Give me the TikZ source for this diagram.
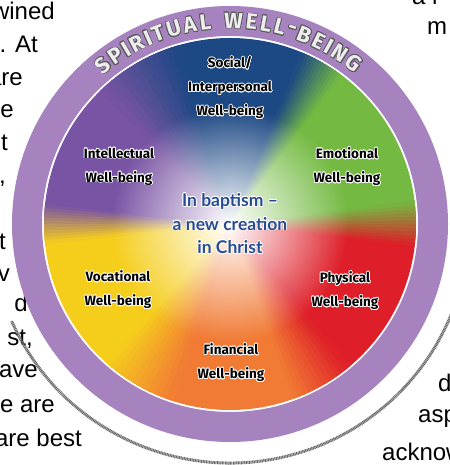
\documentclass[tikz,border=0pt]{standalone}
\usepackage{fontspec}
\setmainfont{Liberation Sans}
\newfontfamily\wheelfont{Fira Sans}
\newfontfamily\centerfont{Lato}
\usepackage[copies]{contour}
\contourlength{0.7pt}
\usetikzlibrary{fadings}

\definecolor{socialblue}{RGB}{28,72,132}
\definecolor{intpurple}{RGB}{122,84,164}
\definecolor{vocyellow}{RGB}{245,206,28}
\definecolor{finorange}{RGB}{241,122,52}
\definecolor{physred}{RGB}{222,30,40}
\definecolor{emogreen}{RGB}{116,186,66}
\definecolor{ringpurple}{RGB}{166,131,191}
\definecolor{centerblue}{RGB}{40,76,146}

\tikzfading[name=centerfade, inner color=transparent!0, outer color=transparent!100]
\newcommand{\halo}[1]{\contour{white}{#1}}

\begin{document}
\begin{tikzpicture}[x=1pt, y=1pt,
	pagetext/.style={font=\fontsize{24}{24}\selectfont, inner sep=0pt},
	wheellabel/.style={font=\wheelfont\bfseries\fontsize{13.5}{24}\selectfont, align=center, text=black, inner sep=0pt},
	ringletter/.style={font=\wheelfont\bfseries\fontsize{22}{22}\selectfont, text=white!93!black, inner sep=0pt}]
	\useasboundingbox (0,0) rectangle (449,465);
	\coordinate (C) at (230,241);

	\foreach \x/\y/\t [count=\i] in {55/445/wined, 38/412/s. At, 23/379/are, 14/347/e, 8/314/t, 6/281/{,}, 6/215/t, 10/183/v, 28/153/d, 33/119/{st,}, 38/87/ave, 55/52/e are, 82/18/are best}
		\node[pagetext, anchor=base east] (L\i) at (\x,\y) {\t};
	\foreach \x/\y/\t [count=\i] in {412/460/a r, 427/430/m, 438/73/d, 418/42/asp, 382/5/acknow}
		\node[pagetext, anchor=base west] (R\i) at (\x,\y) {\t};

	\draw[ringpurple, line width=30pt] (C) circle (203);
	\draw[black!60, line width=3pt, dash pattern=on 1pt off 0.6pt] ([shift={(204:239)}]C) arc[start angle=204, end angle=339, radius=239];

	\foreach \a/\c in {0/emogreen, 60/socialblue, 120/intpurple, 180/vocyellow, 240/finorange, 300/physred}
		\fill[\c] (C) -- ++(\a:186) arc[start angle=\a, end angle=\a+60, radius=186] -- cycle;
	\foreach \b/\lo/\hi/\w in {0/physred/emogreen/7, 60/emogreen/socialblue/7, 120/socialblue/intpurple/14, 180/intpurple/vocyellow/6, 240/vocyellow/finorange/12, 300/finorange/physred/10}
		\foreach \i in {0,...,11}{
			\pgfmathsetmacro\s{\b-\w+\i*\w/6}
			\pgfmathtruncatemacro\p{(\i+0.5)*100/12}
			\fill[\hi!\p!\lo] (C) -- ++(\s:186) arc[start angle=\s, end angle=\s+\w/6+0.4, radius=186] -- cycle;
		}
	\fill[white, path fading=centerfade] (C) circle (118);

	\foreach \ch/\a [count=\i] in {S/128.7, P/124.2, I/120.8, R/117.3, I/113.8, T/110.5, U/106.1, A/101.4, L/97.0, W/89.0, E/83.9, L/79.8, L/75.8, -/72.3, B/68.5, E/64.1, I/60.8, N/57.2, G/52.4}
		\node[ringletter, rotate=\a-90] (S\i) at ([shift={(\a:203)}]C) {\contour{black!65}{\ch}};

	\node[wheellabel] (N1) at (230,377) {\halo{Social/}\\ \halo{Interpersonal}\\ \halo{Well-being}};
	\node[wheellabel] (N2) at (347,298) {\halo{Emotional}\\ \halo{Well-being}};
	\node[wheellabel] (N3) at (345,174) {\halo{Physical}\\ \halo{Well-being}};
	\node[wheellabel] (N4) at (231,102) {\halo{Financial}\\ \halo{Well-being}};
	\node[wheellabel] (N5) at (118,175) {\halo{Vocational}\\ \halo{Well-being}};
	\node[wheellabel] (N6) at (119,298) {\halo{Intellectual}\\ \halo{Well-being}};

	\node[align=center, text=centerblue, font=\centerfont\bfseries\fontsize{17.5}{23.5}\selectfont] (T1) at (C) {\halo{In baptism –}\\ \halo{a new creation}\\ \halo{in Christ}};
\end{tikzpicture}
\end{document}
